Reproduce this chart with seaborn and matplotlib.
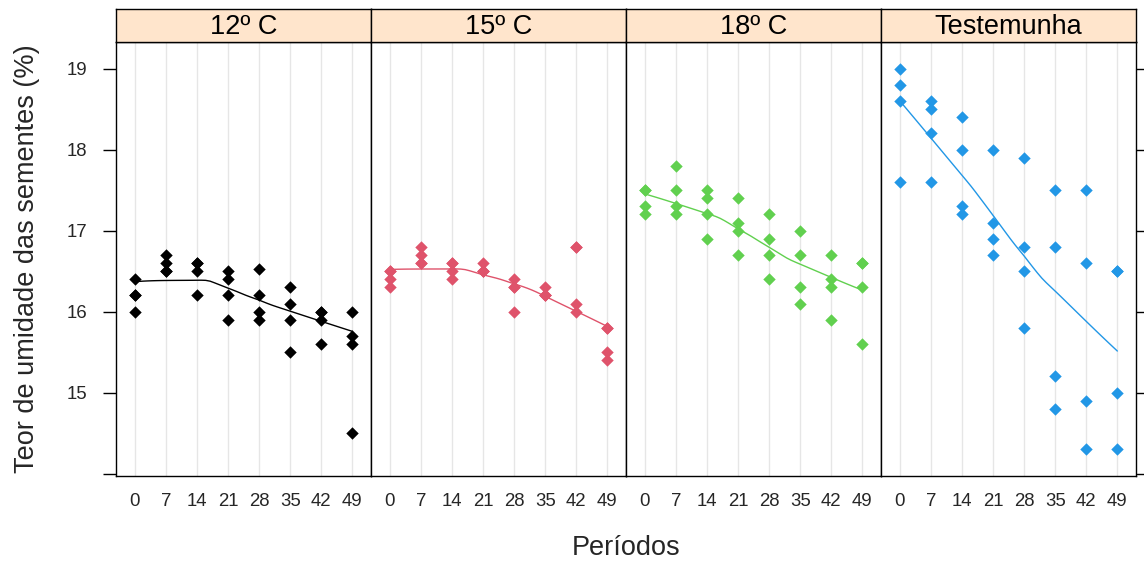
import numpy as np
import pandas as pd
import matplotlib
matplotlib.use("Agg")
import matplotlib.pyplot as plt
import seaborn as sns

# ---------------- data (4 replicates per period; some overlap exactly) ----------------
periods = [0, 7, 14, 21, 28, 35, 42, 49]
panels = ["12º C", "15º C", "18º C", "Testemunha"]
colors = ["#000000", "#DF536B", "#61D04F", "#2297E6"]

vals_12 = [[16.4, 16.2, 16.2, 16.0], [16.7, 16.6, 16.5, 16.5],
           [16.6, 16.6, 16.5, 16.2], [16.5, 16.4, 16.2, 15.9],
           [16.53, 16.2, 16.0, 15.9], [16.3, 16.1, 15.9, 15.5],
           [16.0, 16.0, 15.9, 15.6], [16.0, 15.7, 15.6, 14.5]]
vals_15 = [[16.5, 16.5, 16.4, 16.3], [16.8, 16.7, 16.6, 16.6],
           [16.6, 16.6, 16.5, 16.4], [16.6, 16.5, 16.5, 16.5],
           [16.4, 16.3, 16.3, 16.0], [16.3, 16.2, 16.2, 16.2],
           [16.8, 16.8, 16.1, 16.0], [15.8, 15.8, 15.5, 15.4]]
vals_18 = [[17.5, 17.5, 17.3, 17.2], [17.8, 17.5, 17.3, 17.2],
           [17.5, 17.4, 17.2, 16.9], [17.4, 17.1, 17.0, 16.7],
           [17.2, 16.9, 16.7, 16.4], [17.0, 16.7, 16.3, 16.1],
           [16.7, 16.4, 16.3, 15.9], [16.6, 16.6, 16.3, 15.6]]
vals_test = [[19.0, 18.8, 18.6, 17.6], [18.6, 18.5, 18.2, 17.6],
             [18.4, 18.0, 17.3, 17.2], [18.0, 17.1, 16.9, 16.7],
             [17.9, 16.8, 16.5, 15.8], [17.5, 16.8, 15.2, 14.8],
             [17.5, 16.6, 14.9, 14.3], [16.5, 16.5, 15.0, 14.3]]

ytick_vals = [14, 15, 16, 17, 18, 19]
ytick_labels = ["", "15", "16", "17", "18", "19"]

rows = []
for p, vals in zip(panels, [vals_12, vals_15, vals_18, vals_test]):
    for per, v in zip(periods, vals):
        for yv in v:
            rows.append((p, per, yv))
df = pd.DataFrame(rows, columns=["Temperatura", "Periodo", "Umidade"])


def _local_fit(x, y, xeval, rw, q):
    n = len(x)
    out = []
    for x0 in xeval:
        d = np.abs(x - x0)
        h = max(np.sort(d)[q - 1], 1e-9)
        u = np.clip(d / h, 0, 1)
        w = (1 - u ** 3) ** 3 * rw
        X = np.column_stack([np.ones(n), x - x0])
        WX = X * w[:, None]
        beta = np.linalg.lstsq(WX.T @ X, WX.T @ y, rcond=None)[0]
        out.append(beta[0])
    return np.array(out)


def loess(x, y, xeval, span=2 / 3, iterations=4):
    """Robust local linear regression (like lattice panel.loess, family='symmetric')."""
    x = np.asarray(x, float)
    y = np.asarray(y, float)
    q = int(np.floor(len(x) * span))
    rw = np.ones(len(x))
    for j in range(iterations):
        fitted = _local_fit(x, y, x, rw, q)
        if j == iterations - 1:
            break
        r = y - fitted
        cmad = 6 * np.median(np.abs(r))
        u = np.abs(r) / max(cmad, 1e-12)
        rw = np.where(u < 1, (1 - u ** 2) ** 2, 0.0)
    return _local_fit(x, y, xeval, rw, q)


# ---------------- style ----------------
sns.set_style("white")
plt.rcParams["font.family"] = ["Liberation Sans", "DejaVu Sans"]

W, H = 1144, 567
fig = plt.figure(figsize=(W / 100, H / 100), dpi=100)
left, right, top, bottom = 116, 1136, 42, 476
strip_top = 9
pw = (right - left) / 4
tick_fs = 13.4
lab_fs = 19.5

for i, (p, c) in enumerate(zip(panels, colors)):
    ax = fig.add_axes([(left + i * pw) / W, 1 - bottom / H, pw / W, (bottom - top) / H])
    sub = df[df.Temperatura == p]
    ax.set_axisbelow(True)
    ax.grid(True, axis="x", color="#E6E6E6", lw=1)
    ax.grid(False, axis="y")
    xs = np.linspace(min(periods), max(periods), 50)
    ys = loess(sub.Periodo.values, sub.Umidade.values, xs)
    sns.lineplot(x=xs, y=ys, color=c, lw=1, ax=ax, zorder=2)
    sns.scatterplot(data=sub, x="Periodo", y="Umidade", color=c, marker="D",
                    s=40, linewidth=0, ax=ax, zorder=3)
    ax.set_xlim(-4.2, 53.2)
    ax.set_ylim(13.971, 19.329)
    ax.set_xticks(periods)
    ax.set_xticklabels([str(v) for v in periods])
    ax.tick_params(axis="x", bottom=True, length=0, pad=12, labelsize=tick_fs)
    ax.set_yticks(ytick_vals)
    if i == 0:
        ax.set_yticklabels(ytick_labels)
        ax.tick_params(axis="y", left=True, right=False, direction="out",
                       length=9.4, width=1, pad=11.5, labelsize=tick_fs, color="black")
    elif i == 3:
        ax.yaxis.set_ticks_position("right")
        ax.tick_params(axis="y", right=True, left=False, labelright=False,
                       labelleft=False, direction="out", length=9.4, width=1, color="black")
    else:
        ax.tick_params(axis="y", left=False, right=False, labelleft=False)
    ax.set_xlabel("")
    ax.set_ylabel("")
    for s in ax.spines.values():
        s.set_color("black")
        s.set_linewidth(1)

    sax = fig.add_axes([(left + i * pw) / W, 1 - top / H, pw / W, (top - strip_top) / H])
    sax.set_facecolor("#FFE5CC")
    sax.set_xticks([])
    sax.set_yticks([])
    for s in sax.spines.values():
        s.set_color("black")
        s.set_linewidth(1)
    sax.text(0.5, 0.45, p, ha="center", va="center", fontsize=lab_fs,
             transform=sax.transAxes, color="black")

fig.text(((left + right) / 2) / W, 1 - 548 / H, "Períodos", ha="center", va="center",
         fontsize=lab_fs)
fig.text(27 / W, 1 - ((top + bottom) / 2) / H, "Teor de umidade das sementes (%)",
         ha="center", va="center", rotation=90, fontsize=lab_fs)

fig.savefig("out.png", dpi=100, facecolor="white")
